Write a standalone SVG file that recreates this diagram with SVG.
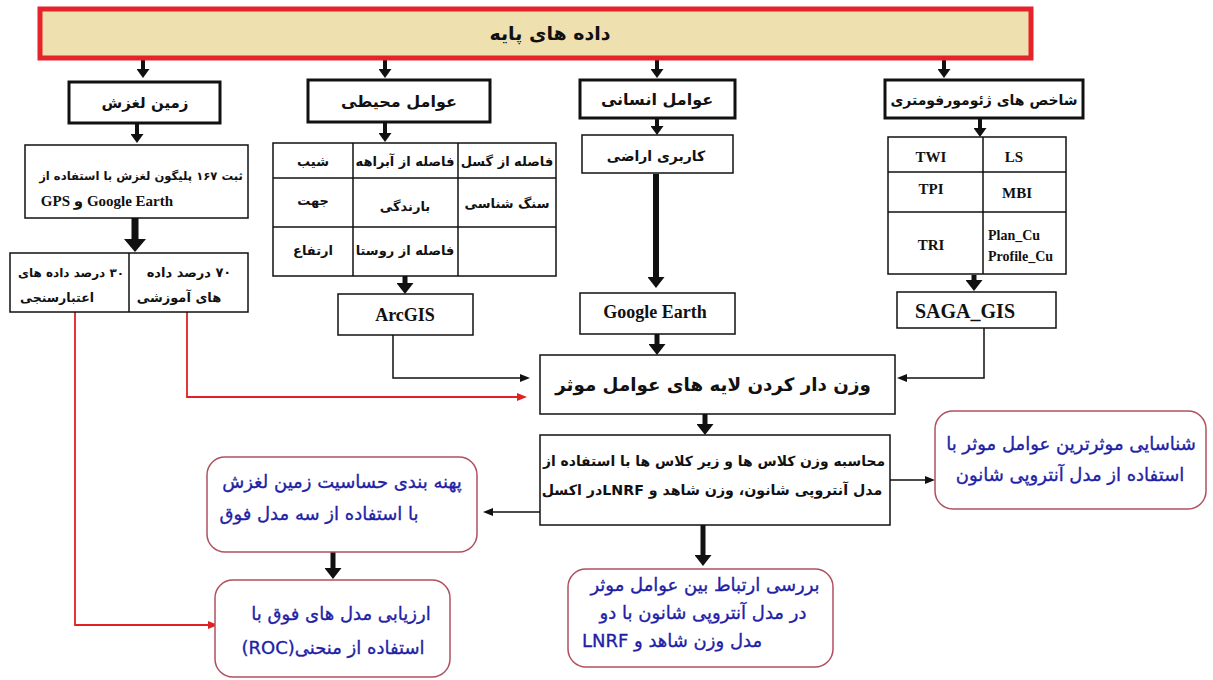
<svg xmlns="http://www.w3.org/2000/svg" width="1213" height="680" viewBox="0 0 1213 680">
<style>
.fa{font-family:'DejaVu Sans','Noto Sans',sans-serif;direction:rtl;unicode-bidi:embed;text-anchor:middle;fill:#111;}
.b{font-weight:bold;}
.lat{font-family:'Liberation Serif','DejaVu Sans',serif;font-weight:bold;text-anchor:middle;fill:#111;}
.st{text-anchor:start;}
.box{fill:#fff;stroke:#111;stroke-width:1.5;}
.tbox{fill:#fff;stroke:#111;stroke-width:3;}
.rbox{fill:#fff;stroke:#b0505e;stroke-width:1.5;}
.blue{fill:#1f1fa6;stroke:#1f1fa6;stroke-width:0.35;font-size:18px;}
.cell{stroke:#111;stroke-width:1.5;}
.k{fill:none;stroke:#111;}
.r{fill:none;stroke:#e02222;stroke-width:1.8;}
</style>
<defs>
<marker id="hs" markerUnits="userSpaceOnUse" markerWidth="9" markerHeight="13" viewBox="0 0 9 13" refX="0" refY="6.5" orient="auto"><path d="M0,0 L9,6.5 L0,13 z" fill="#111"/></marker>
<marker id="hm" markerUnits="userSpaceOnUse" markerWidth="11" markerHeight="17" viewBox="0 0 11 17" refX="0" refY="8.5" orient="auto"><path d="M0,0 L11,8.5 L0,17 z" fill="#111"/></marker>
<marker id="hb" markerUnits="userSpaceOnUse" markerWidth="13" markerHeight="22" viewBox="0 0 13 22" refX="0" refY="11" orient="auto"><path d="M0,0 L13,11 L0,22 z" fill="#111"/></marker>
<marker id="ht" markerUnits="userSpaceOnUse" markerWidth="10" markerHeight="8" viewBox="0 0 10 8" refX="0" refY="4" orient="auto"><path d="M0,0 L10,4 L0,8 z" fill="#111"/></marker>
<marker id="hr" markerUnits="userSpaceOnUse" markerWidth="10" markerHeight="8" viewBox="0 0 10 8" refX="0" refY="4" orient="auto"><path d="M0,0 L10,4 L0,8 z" fill="#e02222"/></marker>
</defs>
<rect width="1213" height="680" fill="#fff"/>

<g id="connectors">
<path class="k" stroke-width="4" d="M143,60 V69" marker-end="url(#hs)"/>
<path class="k" stroke-width="4" d="M385,60 V69" marker-end="url(#hs)"/>
<path class="k" stroke-width="4" d="M657,60 V69" marker-end="url(#hs)"/>
<path class="k" stroke-width="4" d="M944,60 V69" marker-end="url(#hs)"/>
<path class="k" stroke-width="4" d="M137,124 V134" marker-end="url(#hs)"/>
<path class="k" stroke-width="4" d="M385,122 V133" marker-end="url(#hs)"/>
<path class="k" stroke-width="4" d="M657,118 V126" marker-end="url(#hs)"/>
<path class="k" stroke-width="4" d="M980,118 V128" marker-end="url(#hs)"/>
<path class="k" stroke-width="7" d="M135,218 V239" marker-end="url(#hb)"/>
<path class="k" stroke-width="5" d="M405,276 V283" marker-end="url(#hm)"/>
<path class="k" stroke-width="6" d="M656,174 V277" marker-end="url(#hm)"/>
<path class="k" stroke-width="5" d="M974,275 V280" marker-end="url(#hm)"/>
<path class="k" stroke-width="5" d="M657,334 V344" marker-end="url(#hm)"/>
<path class="k" stroke-width="1.5" d="M393,335 V378 H520" marker-end="url(#ht)"/>
<path class="k" stroke-width="1.5" d="M984,328 V378 H907" marker-end="url(#ht)"/>
<path class="k" stroke-width="5" d="M705,414 V424" marker-end="url(#hm)"/>
<path class="k" stroke-width="1.5" d="M890,480 H925" marker-end="url(#ht)"/>
<path class="k" stroke-width="1.5" d="M540,512 H493" marker-end="url(#ht)"/>
<path class="k" stroke-width="5" d="M703,525 V555" marker-end="url(#hm)"/>
<path class="k" stroke-width="5" d="M333,552 V568" marker-end="url(#hm)"/>
<path class="r" d="M187,312 V397 H517" marker-end="url(#hr)"/>
<path class="r" d="M75,312 V625 H208" marker-end="url(#hr)"/>
</g>

<g id="base-data">
<rect x="40" y="9" width="991" height="49" fill="#efe0b0" stroke="#e5232a" stroke-width="5"/>
<text class="fa b" x="550" y="40" font-size="19">داده های پایه</text>
</g>

<g id="landslide">
<rect class="tbox" x="69" y="82" width="151" height="41"/>
<text class="fa b" x="145" y="108" font-size="15">زمین لغزش</text>
</g>

<g id="environmental">
<rect class="tbox" x="308" y="80" width="182" height="42"/>
<text class="fa b" x="399" y="107" font-size="16">عوامل محیطی</text>
</g>

<g id="human">
<rect class="tbox" x="580" y="80" width="155" height="38"/>
<text class="fa b" x="657" y="105" font-size="16">عوامل انسانی</text>
</g>

<g id="geomorph">
<rect class="tbox" x="885" y="80" width="198" height="38"/>
<text class="fa b" x="984" y="105" font-size="14">شاخص های ژئومورفومتری</text>
</g>

<g id="record">
<rect class="box" x="25" y="145" width="223" height="73"/>
<text class="fa b" x="141" y="180" font-size="11.6">ثبت ۱۶۷ پلیگون لغزش  با استفاده از</text>
<text class="lat" x="107" y="206" font-size="15" direction="rtl" unicode-bidi="embed">Google Earth و GPS</text>
</g>

<g id="split">
<rect class="box" x="10" y="253" width="238" height="59"/>
<line class="cell" x1="129" y1="253" x2="129" y2="312"/>
<text class="fa b" x="189" y="277" font-size="13">۷۰ درصد داده</text>
<text class="fa b" x="179" y="302" font-size="13">های آموزشی</text>
<text class="fa b" x="71" y="277" font-size="12">۳۰ درصد داده های</text>
<text class="fa b" x="57" y="302" font-size="12.5">اعتبارسنجی</text>
</g>

<g id="env-table">
<rect class="box" x="273" y="143" width="283" height="133"/>
<line class="cell" x1="353" y1="143" x2="353" y2="276"/>
<line class="cell" x1="458" y1="143" x2="458" y2="276"/>
<line class="cell" x1="273" y1="178" x2="556" y2="178"/>
<line class="cell" x1="273" y1="227" x2="556" y2="227"/>
<text class="fa b" x="313" y="166" font-size="13">شیب</text>
<text class="fa b" x="405" y="166" font-size="13">فاصله از آبراهه</text>
<text class="fa b" x="507" y="166" font-size="13">فاصله از گسل</text>
<text class="fa b" x="313" y="205" font-size="13">جهت</text>
<text class="fa b" x="405" y="211" font-size="13">بارندگی</text>
<text class="fa b" x="507" y="208" font-size="13">سنگ شناسی</text>
<text class="fa b" x="313" y="255" font-size="13">ارتفاع</text>
<text class="fa b" x="405" y="255" font-size="13">فاصله از روستا</text>
</g>

<g id="arcgis">
<rect class="box" x="338" y="294" width="135" height="41"/>
<text class="lat" x="405" y="321" font-size="18">ArcGIS</text>
</g>

<g id="landuse">
<rect class="box" x="582" y="135" width="151" height="38"/>
<text class="fa b" x="656" y="161" font-size="14">کاربری اراضی</text>
</g>

<g id="google-earth">
<rect class="box" x="580" y="293" width="155" height="41"/>
<text class="lat" x="655" y="318" font-size="18">Google Earth</text>
</g>

<g id="geo-table">
<rect class="box" x="888" y="137" width="178" height="137"/>
<line class="cell" x1="983" y1="137" x2="983" y2="274"/>
<line class="cell" x1="888" y1="172" x2="1066" y2="172"/>
<line class="cell" x1="888" y1="212" x2="1066" y2="212"/>
<text class="lat" x="931" y="162" font-size="15">TWI</text>
<text class="lat" x="1014" y="162" font-size="15">LS</text>
<text class="lat" x="931" y="194" font-size="15">TPI</text>
<text class="lat" x="1017" y="198" font-size="15">MBI</text>
<text class="lat" x="931" y="250" font-size="15">TRI</text>
<text class="lat st" x="988" y="240" font-size="14">Plan_Cu</text>
<text class="lat st" x="988" y="261" font-size="14">Profile_Cu</text>
</g>

<g id="saga">
<rect class="box" x="897" y="292" width="159" height="36"/>
<text class="lat st" x="915" y="318" font-size="20">SAGA_GIS</text>
</g>

<g id="weighting">
<rect class="box" x="540" y="355" width="355" height="59"/>
<text class="fa b" x="713" y="391" font-size="18.3">وزن دار کردن لایه های عوامل موثر</text>
</g>

<g id="calculation">
<rect class="box" x="540" y="435" width="350" height="90"/>
<text class="fa b" x="714" y="466" font-size="13.9">محاسبه وزن کلاس ها و زیر کلاس ها با استفاده از</text>
<text class="fa b" x="712" y="495" font-size="14.2">مدل آنتروپی شانون، وزن شاهد و  LNRFدر اکسل</text>
</g>

<g id="identify">
<rect class="rbox" x="935" y="411" width="271" height="98" rx="18"/>
<text class="fa blue" x="1071" y="450" font-size="19.5">شناسایی موثرترین عوامل موثر با</text>
<text class="fa blue" x="1070" y="481" font-size="20">استفاده از مدل آنتروپی شانون</text>
</g>

<g id="zoning">
<rect class="rbox" x="207" y="457" width="270" height="95" rx="18"/>
<text class="fa blue" x="342" y="488">پهنه بندی حساسیت زمین لغزش</text>
<text class="fa blue" x="319" y="520">با استفاده از سه مدل فوق</text>
</g>

<g id="evaluation">
<rect class="rbox" x="215" y="580" width="235" height="97" rx="18"/>
<text class="fa blue" x="341" y="620" font-size="16.5">ارزیابی مدل های فوق با</text>
<text class="fa blue" x="333" y="654">استفاده از منحنی(ROC)</text>
</g>

<g id="relation">
<rect class="rbox" x="568" y="569" width="265" height="98" rx="18"/>
<text class="fa blue" x="705" y="591">بررسی ارتباط بین عوامل موثر</text>
<text class="fa blue" x="703" y="619">در مدل آنتروپی شانون با دو</text>
<text class="fa blue" x="672" y="647">مدل وزن شاهد و LNRF</text>
</g>
</svg>
